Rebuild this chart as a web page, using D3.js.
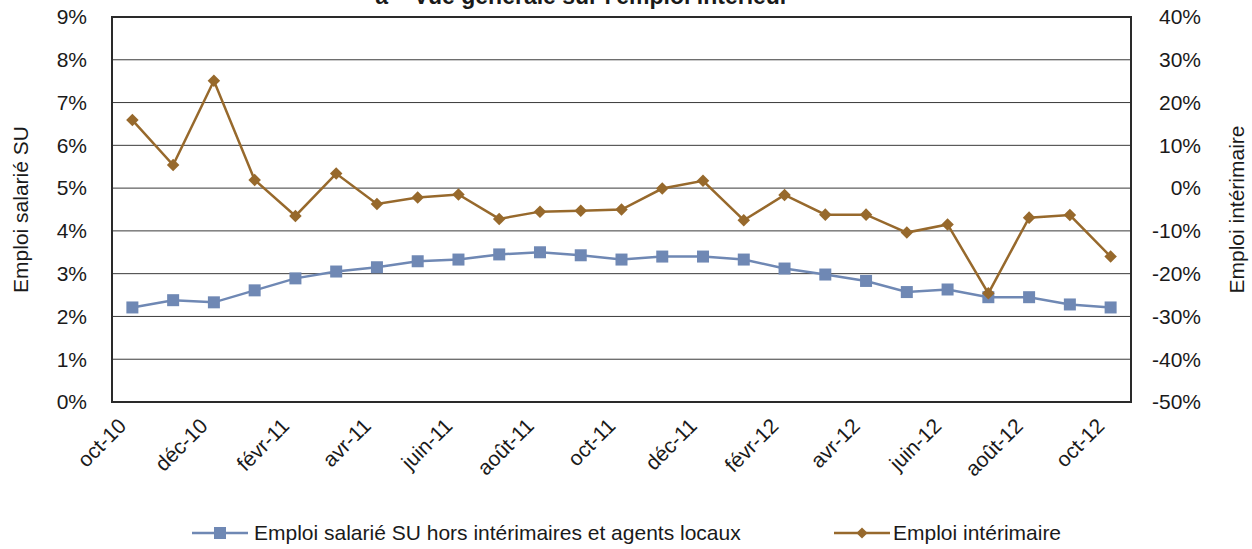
<!DOCTYPE html>
<html>
<head>
<meta charset="utf-8">
<script src="https://cdn.jsdelivr.net/npm/d3@7"></script>
<style>
  body { margin: 0; background: #fff; }
  text { font-family: "Liberation Sans", Arial, sans-serif; fill: #1a1a1a; }
</style>
</head>
<body>
<div id="chart"></div>
<script>
// monthly categories oct-10 .. oct-12
let months = ["oct-10", "nov-10", "déc-10", "janv-11", "févr-11", "mars-11", "avr-11", "mai-11", "juin-11",
    "juil-11", "août-11", "sept-11", "oct-11", "nov-11", "déc-11", "janv-12", "févr-12", "mars-12",
    "avr-12", "mai-12", "juin-12", "juil-12", "août-12", "sept-12", "oct-12"];
let tickMonths = ["oct-10", "déc-10", "févr-11", "avr-11", "juin-11", "août-11", "oct-11", "déc-11",
    "févr-12", "avr-12", "juin-12", "août-12", "oct-12"];

// Emploi salarié SU (left axis, %)
let salarie = [2.21, 2.38, 2.33, 2.61, 2.89, 3.05, 3.15, 3.29, 3.33, 3.45, 3.50, 3.43, 3.33,
    3.40, 3.40, 3.33, 3.12, 2.98, 2.83, 2.57, 2.63, 2.45, 2.45, 2.28, 2.21];
// Emploi intérimaire (right axis, %)
let interim = [15.9, 5.4, 25.1, 1.9, -6.5, 3.4, -3.7, -2.2, -1.5, -7.2, -5.5, -5.3, -5.0,
    -0.1, 1.7, -7.5, -1.6, -6.2, -6.2, -10.4, -8.5, -24.6, -6.9, -6.3, -16.0];

let leftTicks = [0, 1, 2, 3, 4, 5, 6, 7, 8, 9];
let rightTicks = [-50, -40, -30, -20, -10, 0, 10, 20, 30, 40];

let W = 1252, H = 549;
let margin = { top: 17, right: 121, bottom: 147, left: 112 },
    width = W - margin.left - margin.right,
    height = H - margin.top - margin.bottom;

let blue = "#6F88B4", brown = "#97692C";
let fs = "21px";

let svg = d3.select("#chart").append("svg")
    .attr("width", W)
    .attr("height", H);

let g = svg.append("g")
    .attr("transform", "translate(" + margin.left + "," + margin.top + ")");

let x = d3.scaleBand().domain(months).range([0, width]);
let yL = d3.scaleLinear().domain([0, 9]).range([height, 0]);
let yR = d3.scaleLinear().domain([-50, 40]).range([height, 0]);

// gridlines
g.selectAll(".grid")
    .data(leftTicks)
    .enter()
    .append("line")
    .attr("x1", 0)
    .attr("x2", width)
    .attr("y1", d => yL(d))
    .attr("y2", d => yL(d))
    .attr("stroke", "#3a3a3a")
    .attr("stroke-width", 1);

// plot border
g.append("rect")
    .attr("width", width)
    .attr("height", height)
    .attr("fill", "none")
    .attr("stroke", "#2a2a2a")
    .attr("stroke-width", 2);

// left tick labels
g.selectAll(".lt")
    .data(leftTicks)
    .enter()
    .append("text")
    .attr("x", -25)
    .attr("y", d => yL(d))
    .attr("dy", "0.35em")
    .attr("text-anchor", "end")
    .style("font-size", fs)
    .text(d => d + "%");

// right tick labels
g.selectAll(".rt")
    .data(rightTicks)
    .enter()
    .append("text")
    .attr("x", width + 70)
    .attr("y", d => yR(d))
    .attr("dy", "0.35em")
    .attr("text-anchor", "end")
    .style("font-size", fs)
    .text(d => d + "%");

// x labels
g.selectAll(".xt")
    .data(tickMonths)
    .enter()
    .append("text")
    .attr("transform", d => "translate(" + (x(d) + x.bandwidth() / 2 - 10) + "," + (height + 20) + ") rotate(-45)")
    .attr("text-anchor", "end")
    .attr("dy", "0.35em")
    .style("font-size", fs)
    .text(d => d);

// axis titles
svg.append("text")
    .attr("transform", "translate(28," + (margin.top + height / 2) + ") rotate(-90)")
    .attr("text-anchor", "middle")
    .style("font-size", fs)
    .text("Emploi salarié SU");

svg.append("text")
    .attr("transform", "translate(1244," + (margin.top + height / 2) + ") rotate(-90)")
    .attr("text-anchor", "middle")
    .style("font-size", fs)
    .text("Emploi intérimaire");

// title (cut at top)
svg.append("text")
    .attr("x", 582)
    .attr("y", 4)
    .attr("text-anchor", "middle")
    .style("font-size", "23px")
    .style("font-weight", "bold")
    .text("a – Vue générale sur l'emploi intérieur");

let cx = d => x(d) + x.bandwidth() / 2;

// blue series
let lineL = d3.line()
    .x((d, i) => cx(months[i]))
    .y(d => yL(d));
g.append("path")
    .datum(salarie)
    .attr("d", lineL)
    .attr("fill", "none")
    .attr("stroke", blue)
    .attr("stroke-width", 2.5);
g.selectAll(".sq")
    .data(salarie)
    .enter()
    .append("rect")
    .attr("x", (d, i) => cx(months[i]) - 6)
    .attr("y", d => yL(d) - 6)
    .attr("width", 12)
    .attr("height", 12)
    .attr("fill", blue);

// brown series
let lineR = d3.line()
    .x((d, i) => cx(months[i]))
    .y(d => yR(d));
g.append("path")
    .datum(interim)
    .attr("d", lineR)
    .attr("fill", "none")
    .attr("stroke", brown)
    .attr("stroke-width", 2.5);
g.selectAll(".dm")
    .data(interim)
    .enter()
    .append("path")
    .attr("d", d3.symbol().type(d3.symbolDiamond2).size(100))
    .attr("transform", (d, i) => "translate(" + cx(months[i]) + "," + yR(d) + ")")
    .attr("fill", brown);

// legend
let leg = svg.append("g").attr("transform", "translate(0,533)");
leg.append("line").attr("x1", 192).attr("x2", 248).attr("y1", 0).attr("y2", 0)
    .attr("stroke", blue).attr("stroke-width", 2.5);
leg.append("rect").attr("x", 214).attr("y", -6).attr("width", 12).attr("height", 12).attr("fill", blue);
leg.append("text").attr("x", 254).attr("y", 0).attr("dy", "0.35em")
    .style("font-size", fs).text("Emploi salarié SU hors intérimaires et agents locaux");

leg.append("line").attr("x1", 834).attr("x2", 890).attr("y1", 0).attr("y2", 0)
    .attr("stroke", brown).attr("stroke-width", 2.5);
leg.append("path")
    .attr("d", d3.symbol().type(d3.symbolDiamond2).size(80))
    .attr("transform", "translate(862,0)")
    .attr("fill", brown);
leg.append("text").attr("x", 893).attr("y", 0).attr("dy", "0.35em")
    .style("font-size", fs).text("Emploi intérimaire");
</script>
</body>
</html>
